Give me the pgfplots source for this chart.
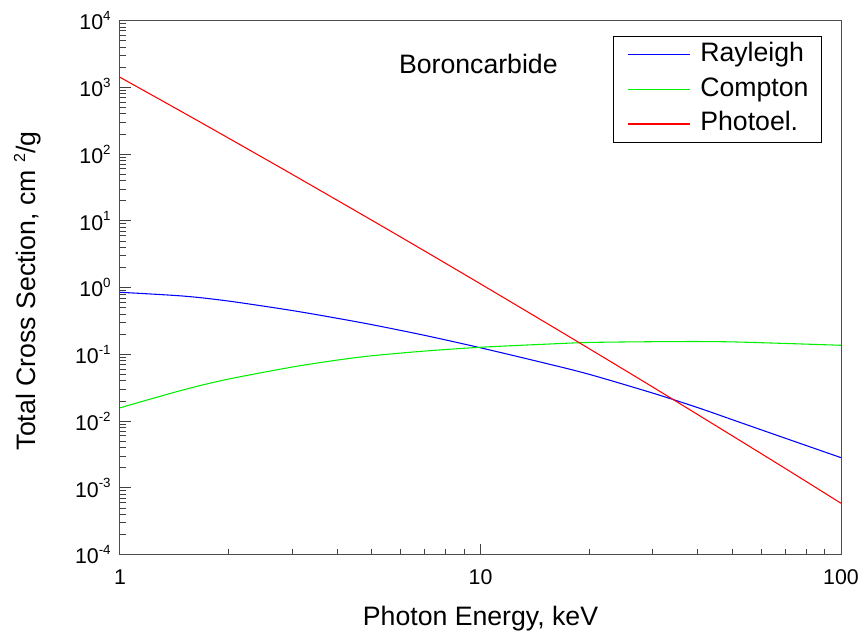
\documentclass[border=0pt]{standalone}
\usepackage{fontspec}
\setmainfont{Liberation Sans}
\usepackage{pgfplots}
\pgfplotsset{compat=1.18}
\definecolor{cblue}{RGB}{0,0,255}
\definecolor{cgreen}{RGB}{0,240,0}
\definecolor{cred}{RGB}{255,0,0}
\newcommand{\ep}[1]{10\raisebox{7pt}{\fontsize{10}{10}\selectfont #1}}
\begin{document}
\begin{tikzpicture}
\useasboundingbox (-90pt,-62.5pt) rectangle (557.25pt,416pt);
\begin{axis}[
  scale only axis,
  width=540.75pt, height=400.5pt,
  xmode=log, ymode=log,
  xmin=1, xmax=100, ymin=1e-4, ymax=1e4,
  xtick={1,10,100}, xticklabels={1,10,100},
  ytick={1e-4,1e-3,1e-2,1e-1,1,10,100,1000,10000},
  yticklabels={\ep{-4},\ep{-3},\ep{-2},\ep{-1},\ep{0},\ep{1},\ep{2},\ep{3},\ep{4}},
  tick align=inside,
  xtick pos=bottom, ytick pos=left,
  major tick length=8pt, minor tick length=4.5pt,
  axis line style={black!70, line width=0.75pt},
  every tick/.style={black!75, line width=0.75pt},
  ticklabel style={font=\fontsize{16}{18}\selectfont},
  yticklabel style={xshift=-3.5pt},
  xticklabel style={yshift=-8pt},
  xlabel={Photon Energy, keV},
  ylabel={Total Cross Section, cm \raisebox{8pt}{\fontsize{12}{12}\selectfont 2}/g},
  label style={font=\fontsize{20}{24}\selectfont},
  xlabel style={at={(axis description cs:0.5,-0.1204)}, anchor=center},
  ylabel style={at={(axis description cs:-0.128,0.494)}, anchor=center},
  legend style={at={(rel axis cs:0.974,0.972)}, anchor=north east, draw=black,
    line width=0.6pt, font=\fontsize{20}{24}\selectfont,
    inner xsep=10pt, inner ysep=4pt, row sep=6pt,
    nodes={inner sep=0pt, text height=15pt, text depth=5pt},
    /tikz/every odd column/.append style={column sep=7pt}},
  legend cell align=left,
  legend image code/.code={\draw[#1, line width=1pt] (0pt,0pt) -- (47pt,0pt);},
]
\addplot[cblue, line width=0.8pt, smooth] coordinates {
(1,0.853) (1.5,0.748) (2,0.630) (3,0.455) (4,0.348) (5,0.279) (7,0.193)
(10,0.1256) (15,0.0746) (20,0.0504) (30,0.0264) (40,0.0160) (50,0.0105)
(70,0.00556) (100,0.00284)};
\addlegendentry{Rayleigh}
\addplot[cgreen, line width=0.8pt, smooth] coordinates {
(1,0.01585) (1.5,0.0295) (2,0.0427) (3,0.0646) (4,0.0822) (5,0.0955) (7,0.1122)
(10,0.128) (15,0.142) (20,0.151) (30,0.155) (40,0.156) (50,0.154)
(70,0.146) (100,0.137)};
\addlegendentry{Compton}
\addplot[cred, line width=0.8pt, smooth] coordinates {
(1,1419) (1.5,418) (2,173.9) (3,50.0) (5,10.2) (7,3.54) (10,1.139) (15,0.310)
(20,0.1223) (30,0.0326) (50,0.00601) (70,0.00196) (100,0.000589)};
\addlegendentry{Photoel.}
\node[font=\fontsize{20}{24}\selectfont] at (rel axis cs:0.497,0.918) {Boroncarbide};
\end{axis}
\end{tikzpicture}
\end{document}
